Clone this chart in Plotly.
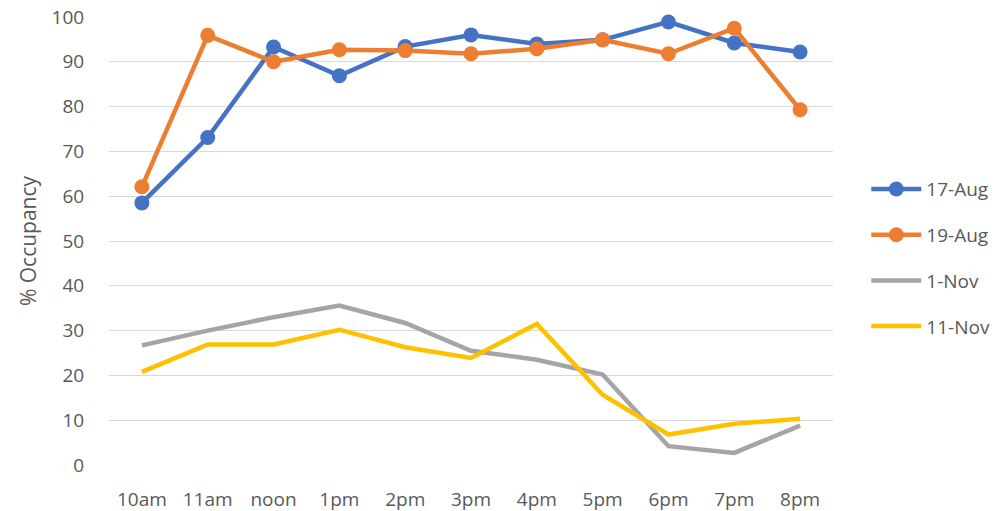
import plotly.graph_objects as go

hours = ["10am", "11am", "noon", "1pm", "2pm", "3pm", "4pm", "5pm", "6pm", "7pm", "8pm"]

aug17 = [58.5, 73.1, 93.3, 86.9, 93.4, 96.0, 94.0, 94.9, 98.9, 94.2, 92.2]
aug19 = [62.1, 95.9, 90.0, 92.7, 92.5, 91.8, 92.9, 94.9, 91.8, 97.5, 79.3]
nov1 = [26.7, 30.0, 33.0, 35.6, 31.7, 25.5, 23.5, 20.2, 4.2, 2.7, 8.8]
nov11 = [20.8, 26.9, 26.9, 30.2, 26.3, 23.9, 31.5, 15.7, 6.8, 9.2, 10.3]

y_ticks = [0, 10, 20, 30, 40, 50, 60, 70, 80, 90, 100]

TEXT = "#595959"
FONT = "Open Sans"

fig = go.Figure()

series = [
    ("17-Aug", aug17, "#4472C4", True),
    ("19-Aug", aug19, "#ED7D31", True),
    ("1-Nov", nov1, "#A5A5A5", False),
    ("11-Nov", nov11, "#FFC000", False),
]

for name, vals, color, markers in series:
    fig.add_trace(go.Scatter(
        x=hours, y=vals, name=name, legendgroup=name,
        mode="lines+markers" if markers else "lines",
        line=dict(color=color, width=4.5),
        marker=dict(size=15, color=color),
        cliponaxis=False,
    ))

fig.update_layout(
    width=1005, height=511,
    margin=dict(l=109, r=172, t=17, b=46, autoexpand=False),
    paper_bgcolor="white", plot_bgcolor="white",
    font=dict(family=FONT, size=19, color=TEXT),
    showlegend=True,
    legend=dict(
        xref="container", yref="container",
        x=0.862, xanchor="left", y=0.667, yanchor="top",
        font=dict(size=19, color=TEXT),
        tracegroupgap=18,
        itemwidth=50,
        bgcolor="rgba(0,0,0,0)",
    ),
    xaxis=dict(
        type="category",
        range=[-0.5, 10.5],
        automargin=False,
        showgrid=False, zeroline=False, showline=False,
        ticks="outside", ticklen=17, tickcolor="rgba(0,0,0,0)",
        tickfont=dict(size=19, color=TEXT),
    ),
    yaxis=dict(
        range=[0, 100],
        automargin=False,
        tickvals=y_ticks,
        showgrid=True, gridcolor="#D9D9D9", gridwidth=1.3,
        zeroline=False, showline=False,
        ticks="outside", ticklen=20, tickcolor="rgba(0,0,0,0)",
        tickfont=dict(size=19, color=TEXT),
        title=dict(text="% Occupancy", font=dict(size=21, color=TEXT), standoff=9),
    ),
)

fig.write_html("out.html")
